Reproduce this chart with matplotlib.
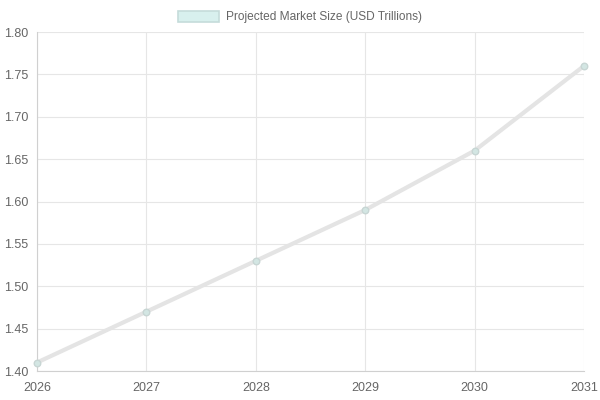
import matplotlib
matplotlib.use("Agg")
import matplotlib.pyplot as plt
from matplotlib.patches import Patch

plt.rcParams['font.family'] = ['Liberation Sans', 'DejaVu Sans']

years = [2026, 2027, 2028, 2029, 2030, 2031]
market_size = [1.41, 1.47, 1.53, 1.59, 1.66, 1.76]
y_ticks = [1.40, 1.45, 1.50, 1.55, 1.60, 1.65, 1.70, 1.75, 1.80]
series_label = 'Projected Market Size (USD Trillions)'

fig = plt.figure(figsize=(6, 4), dpi=100)
ax = fig.add_axes([37 / 600, 29 / 400, 547 / 600, 339 / 400])

ax.plot(years, market_size, color='#e4e4e4', linewidth=3, zorder=3,
        solid_capstyle='round')
ax.scatter(years, market_size, s=22, facecolor='#d3e6e3', edgecolor='#c8d6d4',
           linewidth=1, zorder=4, clip_on=False)

ax.set_xlim(2026, 2031)
ax.set_ylim(1.40, 1.80)
ax.set_xticks(years)
ax.set_xticklabels([str(y) for y in years])
ax.set_yticks(y_ticks)
ax.set_yticklabels(['{:.2f}'.format(v) for v in y_ticks])

ax.grid(True, color='#e6e6e6', linewidth=0.8)
ax.set_axisbelow(True)
for side in ['top', 'right']:
    ax.spines[side].set_visible(False)
ax.spines['left'].set_color('#d0d0d0')
ax.spines['bottom'].set_color('#d0d0d0')
ax.tick_params(axis='both', colors='#666666', labelsize=9, length=0, pad=6)
ax.tick_params(axis='x', pad=8)

handle = Patch(facecolor='#d8f0ee', edgecolor='#c5dcda', linewidth=1.2)
fig.legend([handle], [series_label], loc='upper center',
           bbox_to_anchor=(0.5, 1.0), frameon=False, fontsize=8.6,
           handlelength=3.5, handleheight=1.05, handletextpad=0.6,
           labelcolor='#666666')

fig.savefig('out.png', dpi=100)
